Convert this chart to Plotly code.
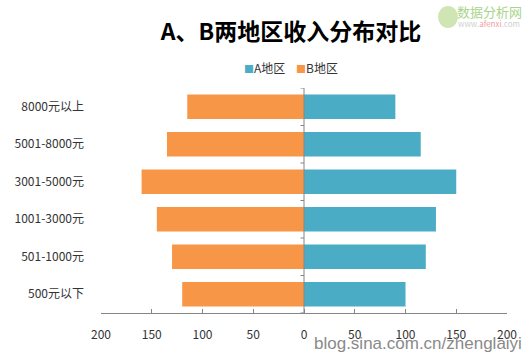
import plotly.graph_objects as go

categories = ["500元以下", "501-1000元", "1001-3000元", "3001-5000元", "5001-8000元", "8000元以上"]
a_values = [100, 120, 130, 150, 115, 90]
b_values = [120, 130, 145, 160, 135, 115]
tick_vals = [-200, -150, -100, -50, 0, 50, 100, 150, 200]
tick_text = ["200", "150", "100", "50", "0", "50", "100", "150", "200"]

COLOR_A = "#4BACC6"
COLOR_B = "#F79646"
FONT = "Noto Sans CJK SC"

W, H = 528, 356
L, R, T, B = 101, 21, 88, 43
PW, PH = W - L - R, H - T - B

def px_x(x):
    return (x - L) / PW

def px_y(y):
    return (H - B - y) / PH

fig = go.Figure()
fig.add_trace(go.Bar(
    y=categories, x=a_values, orientation="h", name="A地区",
    marker=dict(color=COLOR_A, line=dict(width=0)),
))
fig.add_trace(go.Bar(
    y=categories, x=[-v for v in b_values], orientation="h", name="B地区",
    marker=dict(color=COLOR_B, line=dict(width=0)),
    customdata=b_values, hovertemplate="%{y}: %{customdata}<extra>B地区</extra>",
))

shapes = []
for i in range(len(categories) + 1):
    shapes.append(dict(type="line", xref="x", yref="y",
                       x0=-3.5, x1=0, y0=i - 0.5, y1=i - 0.5,
                       line=dict(color="#868686", width=1)))
shapes.append(dict(type="line", xref="x", yref="y", x0=0, x1=0,
                   y0=-0.5, y1=len(categories) - 0.5,
                   line=dict(color="#868686", width=1)))
# watermark logo circle (top-right)
shapes.append(dict(type="circle", xref="paper", yref="paper",
                   x0=px_x(438), x1=px_x(458), y0=px_y(28), y1=px_y(6),
                   fillcolor="#cfe6b4", line=dict(width=0), layer="below"))

fig.update_layout(
    width=W, height=H,
    margin=dict(l=L, r=R, t=T, b=B),
    paper_bgcolor="white", plot_bgcolor="white",
    barmode="relative", bargap=0.35,
    showlegend=False,
    font=dict(family=FONT, size=12, color="#333333"),
    title=dict(text="<b>A、B两地区收入分布对比</b>", x=291 / W, xanchor="center",
               y=1 - 32 / H, yanchor="middle",
               font=dict(family=FONT, size=23, color="#000000")),
    shapes=shapes,
    annotations=[
        dict(xref="paper", yref="paper", x=px_x(291), y=px_y(67),
             xanchor="center", yanchor="middle", showarrow=False,
             text=f"<span style='color:{COLOR_A};font-size:10px'>■</span>A地区    "
                  f"<span style='color:{COLOR_B};font-size:10px'>■</span>B地区",
             font=dict(family=FONT, size=12, color="#333333")),
        dict(xref="paper", yref="paper", x=px_x(524), y=px_y(343),
             xanchor="right", yanchor="middle", showarrow=False,
             text="blog.sina.com.cn/zhenglaiyi",
             font=dict(family="Liberation Sans", size=17, color="#8a8a8a")),
        dict(xref="paper", yref="paper", x=px_x(524), y=px_y(11),
             xanchor="right", yanchor="middle", showarrow=False,
             text="数据分析网",
             font=dict(family=FONT, size=13, color="#a9d58a")),
        dict(xref="paper", yref="paper", x=px_x(522), y=px_y(24),
             xanchor="right", yanchor="middle", showarrow=False,
             text="www.<span style='color:#f0a0a0'>afenxi</span>.com",
             font=dict(family=FONT, size=8, color="#d0d0d0")),
    ],
)
fig.update_xaxes(
    range=[-200, 200], tickvals=tick_vals, ticktext=tick_text,
    showgrid=False, zeroline=False,
    showline=True, linecolor="#868686", linewidth=1,
    ticks="inside", ticklen=4, tickcolor="#868686",
    ticklabelstandoff=11,
    tickfont=dict(family=FONT, size=12, color="#333333"),
    fixedrange=True,
)
fig.update_yaxes(
    showgrid=False, zeroline=False, showline=False, ticks="",
    ticklabelstandoff=16,
    tickfont=dict(family=FONT, size=12, color="#333333"),
    range=[-0.5, len(categories) - 0.5],
    fixedrange=True,
)

fig.write_html("out.html", config={"displayModeBar": False},
               post_script="document.body.style.margin='0';document.body.style.padding='0';")
